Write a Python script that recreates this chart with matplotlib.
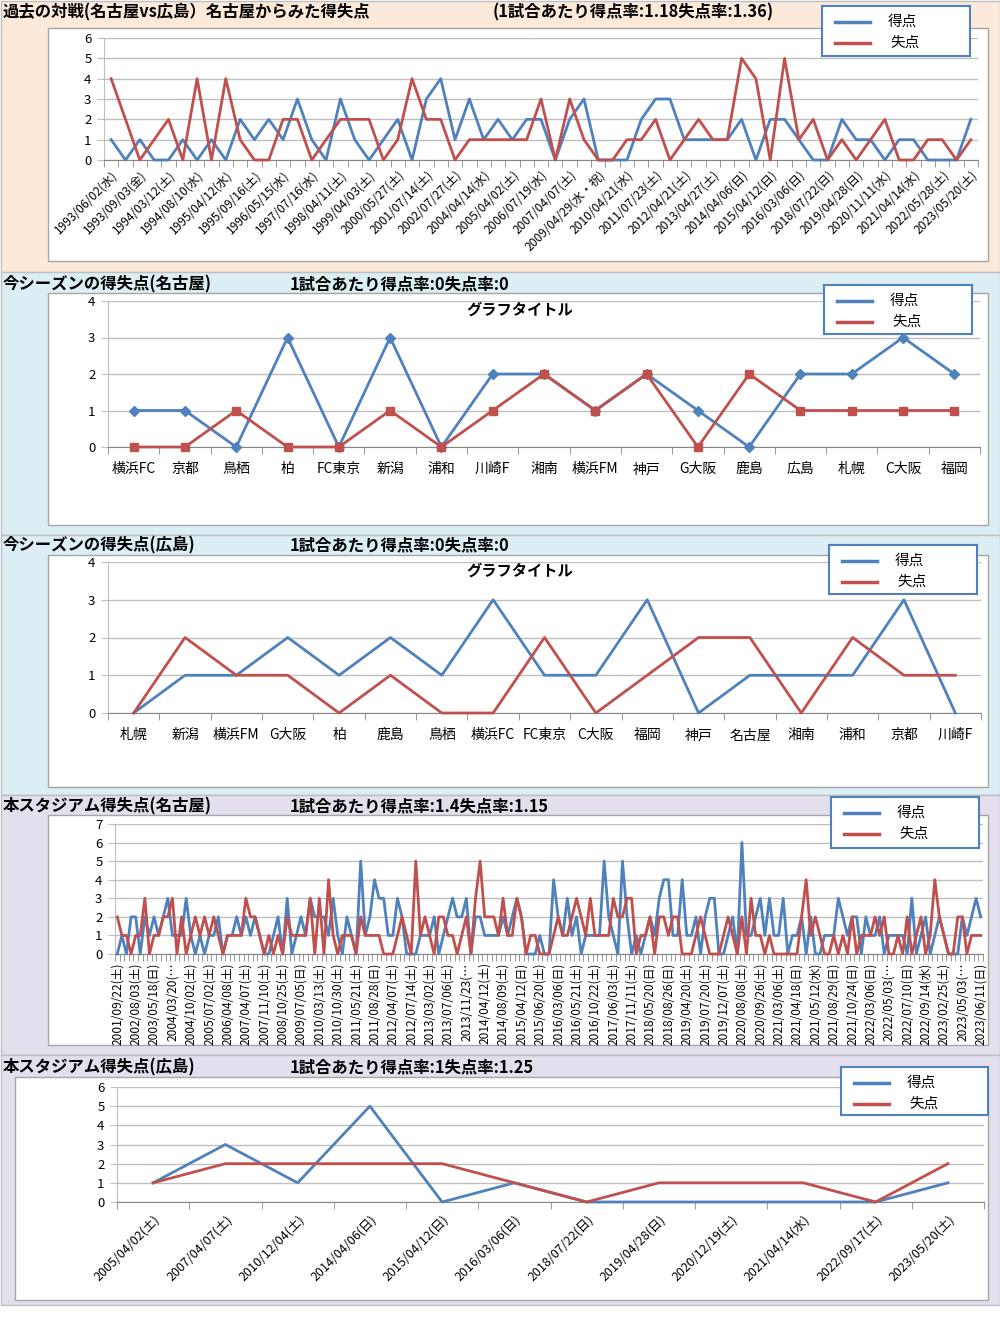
import matplotlib
matplotlib.use('Agg')
import matplotlib.pyplot as plt
from matplotlib.patches import Rectangle
import numpy as np

plt.rcParams['font.family'] = ['Noto Sans CJK JP', 'DejaVu Sans']

W, H = 1000, 1330
BLUE = '#4F81BD'
RED = '#C0504D'
GRID = '#BFBFBF'
AXC = '#868686'

# --- panel 1: past head-to-head (61 matches, every other date labelled)
p1_labels = ['1993/06/02(水)', '1993/09/03(金)', '1994/03/12(土)', '1994/08/10(水)',
             '1995/04/12(水)', '1995/09/16(土)', '1996/05/15(水)', '1997/07/16(水)',
             '1998/04/11(土)', '1999/04/03(土)', '2000/05/27(土)', '2001/07/14(土)',
             '2002/07/27(土)', '2004/04/14(水)', '2005/04/02(土)', '2006/07/19(水)',
             '2007/04/07(土)', '2009/04/29(水・祝)', '2010/04/21(水)', '2011/07/23(土)',
             '2012/04/21(土)', '2013/04/27(土)', '2014/04/06(日)', '2015/04/12(日)',
             '2016/03/06(日)', '2018/07/22(日)', '2019/04/28(日)', '2020/11/11(水)',
             '2021/04/14(水)', '2022/05/28(土)', '2023/05/20(土)']
p1_gf = [1, 0, 1, 0, 0, 1, 0, 1, 0, 2, 1, 2, 1, 3, 1, 0, 3, 1, 0, 1,
         2, 0, 3, 4, 1, 3, 1, 2, 1, 2, 2, 0, 2, 3, 0, 0, 0, 2, 3, 3,
         1, 1, 1, 1, 2, 0, 2, 2, 1, 0, 0, 2, 1, 1, 0, 1, 1, 0, 0, 0, 2]
p1_ga = [4, 2, 0, 1, 2, 0, 4, 0, 4, 1, 0, 0, 2, 2, 0, 1, 2, 2, 2, 0,
         1, 4, 2, 2, 0, 1, 1, 1, 1, 1, 3, 0, 3, 1, 0, 0, 1, 1, 2, 0,
         1, 2, 1, 1, 5, 4, 0, 5, 1, 2, 0, 1, 0, 1, 2, 0, 0, 1, 1, 0, 1]

# --- panel 2: this season, Nagoya
p2_teams = ['横浜FC', '京都', '鳥栖', '柏', 'FC東京', '新潟', '浦和', '川崎F', '湘南',
            '横浜FM', '神戸', 'G大阪', '鹿島', '広島', '札幌', 'C大阪', '福岡']
p2_gf = [1, 1, 0, 3, 0, 3, 0, 2, 2, 1, 2, 1, 0, 2, 2, 3, 2]
p2_ga = [0, 0, 1, 0, 0, 1, 0, 1, 2, 1, 2, 0, 2, 1, 1, 1, 1]

# --- panel 3: this season, Hiroshima
p3_teams = ['札幌', '新潟', '横浜FM', 'G大阪', '柏', '鹿島', '鳥栖', '横浜FC', 'FC東京',
            'C大阪', '福岡', '神戸', '名古屋', '湘南', '浦和', '京都', '川崎F']
p3_gf = [0, 1, 1, 2, 1, 2, 1, 3, 1, 1, 3, 0, 1, 1, 1, 3, 0]
p3_ga = [0, 2, 1, 1, 0, 1, 0, 0, 2, 0, 1, 2, 2, 0, 2, 1, 1]

# --- panel 4: home stadium, Nagoya (189 matches, every 4th labelled)
p4_labels = ['2001/09/22(土)', '2002/08/03(土)', '2003/05/18(日)', '2004/03/20(…',
             '2004/10/02(土)', '2005/07/02(土)', '2006/04/08(土)', '2007/04/07(土)',
             '2007/11/10(土)', '2008/10/25(土)', '2009/07/05(日)', '2010/03/13(土)',
             '2010/10/30(土)', '2011/05/21(土)', '2011/08/28(日)', '2012/04/07(土)',
             '2012/07/14(土)', '2013/03/02(土)', '2013/07/06(土)', '2013/11/23(…',
             '2014/04/12(土)', '2014/08/09(土)', '2015/04/12(日)', '2015/06/20(土)',
             '2016/03/06(日)', '2016/05/21(土)', '2016/10/22(土)', '2017/06/03(土)',
             '2017/11/11(土)', '2018/05/20(日)', '2018/08/26(日)', '2019/04/20(土)',
             '2019/07/20(土)', '2019/12/07(土)', '2020/08/08(土)', '2020/09/26(土)',
             '2021/03/06(土)', '2021/04/18(日)', '2021/05/12(水)', '2021/08/29(日)',
             '2021/10/24(日)', '2022/03/06(日)', '2022/05/03(…', '2022/07/10(日)',
             '2022/09/14(水)', '2023/02/25(土)', '2023/05/03(…', '2023/06/11(日)']
p4_gf = [0, 1, 0, 2, 2, 0, 2, 1, 2, 1, 2, 3, 1, 1, 1, 3, 1, 0, 1, 0,
         1, 1, 2, 0, 1, 1, 2, 1, 2, 1, 2, 1, 0, 0, 1, 2, 0, 3, 0, 1,
         2, 1, 3, 2, 2, 2, 1, 3, 1, 0, 2, 1, 0, 5, 1, 2, 4, 3, 3, 1,
         1, 3, 2,
         0, 0, 0, 1, 1, 1, 2, 0, 1, 2, 3, 2, 2, 3, 0, 2, 2, 1, 1, 1,
         1, 2, 1, 2, 3, 2, 0, 0, 0, 1, 0, 0, 4, 2, 1, 3, 1, 2, 0, 1,
         1, 1, 1, 5, 2, 1, 0, 5, 2, 0, 1, 0, 1, 2, 1, 3, 4, 4, 1, 1,
         4, 1,
         1, 2, 0, 2, 3, 3, 0, 0, 1, 2, 0, 6, 1, 1, 2, 3, 1, 3, 1, 1,
         3, 0, 1, 1, 2, 0, 2, 0, 0, 1, 1, 1, 3, 2, 1, 2, 2, 0, 2, 1,
         1, 2, 0, 1, 1, 1, 1, 0, 3, 0, 1, 2, 0, 1, 2, 1, 0, 0, 0, 2,
         1, 2, 3, 2]
p4_ga = [2, 1, 1, 0, 1, 1, 3, 0, 1, 1, 2, 2, 3, 0, 2, 0, 1, 2, 1, 2,
         1, 2, 1, 0, 1, 1, 1, 1, 3, 2, 2, 1, 0, 1, 0, 1, 0, 2, 1, 1,
         1, 1, 3, 0, 3, 0, 4, 1, 0, 1, 1, 1, 0, 2, 1, 1, 1, 1, 0, 0,
         0, 1, 2,
         1, 0, 5, 1, 2, 1, 0, 2, 2, 1, 1, 0, 1, 2, 0, 3, 5, 2, 2, 2,
         1, 3, 1, 1, 3, 2, 0, 1, 1, 0, 0, 0, 1, 2, 1, 1, 2, 3, 2, 1,
         3, 1, 1, 1, 1, 3, 2, 2, 3, 3, 0, 1, 1, 2, 0, 2, 2, 1, 2, 2,
         0, 0,
         0, 1, 2, 1, 0, 0, 0, 1, 2, 1, 0, 2, 0, 3, 1, 1, 0, 1, 0, 0,
         0, 0, 0, 0, 2, 4, 1, 2, 1, 0, 0, 1, 0, 1, 0, 2, 0, 1, 1, 1,
         2, 1, 2, 0, 0, 1, 0, 2, 0, 1, 2, 0, 1, 4, 2, 1, 0, 0, 2, 2,
         0, 1, 1, 1]

# --- panel 5: home stadium, Hiroshima
p5_labels = ['2005/04/02(土)', '2007/04/07(土)', '2010/12/04(土)', '2014/04/06(日)',
             '2015/04/12(日)', '2016/03/06(日)', '2018/07/22(日)', '2019/04/28(日)',
             '2020/12/19(土)', '2021/04/14(水)', '2022/09/17(土)', '2023/05/20(土)']
p5_gf = [1, 3, 1, 5, 0, 1, 0, 0, 0, 0, 0, 1]
p5_ga = [1, 2, 2, 2, 2, 1, 0, 1, 1, 1, 0, 2]

fig = plt.figure(figsize=(10, 13.3), dpi=100)


def rect(x0, y0, x1, y1):
    return [x0 / W, 1 - y1 / H, (x1 - x0) / W, (y1 - y0) / H]


def patch(x0, y0, x1, y1, fc, ec, z):
    r = rect(x0, y0, x1, y1)
    fig.patches.append(Rectangle((r[0], r[1]), r[2], r[3], transform=fig.transFigure,
                                 facecolor=fc, edgecolor=ec, lw=1.0, zorder=z))


def ftext(x, y, s, **kw):
    fig.text(x / W, 1 - y / H, s, va='center', **kw)


def legend(x0, y0, x1, y1):
    lax = fig.add_axes(rect(x0, y0, x1, y1), zorder=5)
    lax.set_xlim(0, x1 - x0)
    lax.set_ylim(y1 - y0, 0)
    lax.set_xticks([])
    lax.set_yticks([])
    for s in lax.spines.values():
        s.set_color(BLUE)
        s.set_linewidth(1.5)
    lax.plot([13, 48], [16, 16], color=BLUE, lw=2.5)
    lax.plot([13, 48], [37, 37], color=RED, lw=2.5)
    lax.text(66, 16, '得点', va='center', fontsize=10.5)
    lax.text(68, 37, '失点', va='center', fontsize=10.5)


def chart(box, labels, gf, sf, ymax, every=1, rot=0, lfs=9, pad=6, markers=False):
    ax = fig.add_axes(rect(*box), zorder=2)
    n = len(gf)
    x = np.arange(n)
    ax.plot(x, gf, color=BLUE, lw=2, marker='D' if markers else None, ms=5,
            clip_on=False, zorder=3)
    ax.plot(x, sf, color=RED, lw=2, marker='s' if markers else None, ms=6,
            clip_on=False, zorder=4)
    ax.set_xlim(-0.5, n - 0.5)
    ax.set_ylim(0, ymax)
    ax.set_yticks(range(ymax + 1))
    ax.yaxis.grid(True, color=GRID, lw=1)
    ax.set_axisbelow(True)
    ax.set_facecolor('none')
    for s in ['top', 'right']:
        ax.spines[s].set_visible(False)
    ax.spines['left'].set_color(GRID)
    ax.spines['bottom'].set_color(AXC)
    ax.set_xticks(x[::every])
    if rot == 0:
        ax.set_xticklabels(labels, fontsize=lfs)
    elif rot == 90:
        ax.set_xticklabels(labels, fontsize=lfs, rotation=90, ha='center', va='top')
    else:
        ax.set_xticklabels(labels, fontsize=lfs, rotation=rot, ha='right', va='top',
                           rotation_mode='anchor')
    ax.set_xticks(np.arange(n + 1) - 0.5, minor=True)
    ax.tick_params(axis='x', which='major', length=0, pad=pad)
    ax.tick_params(axis='x', which='minor', length=5, color=AXC)
    ax.tick_params(axis='y', length=5, color=GRID, labelsize=9.5, pad=4)
    return ax


# backgrounds
patch(0.5, 0.5, 999.5, 272, '#FDE9D9', GRID, -10)
patch(0.5, 272, 999.5, 535, '#DAEEF3', GRID, -10)
patch(0.5, 535, 999.5, 795, '#DAEEF3', GRID, -10)
patch(0.5, 795, 999.5, 1055, '#E4DFEC', GRID, -10)
patch(0.5, 1055, 999.5, 1305, '#E4DFEC', GRID, -10)

# chart boxes
for bx in [(48, 28, 988, 261), (48, 293, 988, 525), (48, 555, 988, 787),
           (48, 815, 988, 1045), (15, 1077, 988, 1300)]:
    patch(*bx, 'white', '#A6A6A6', -5)

# headings
tk = dict(fontsize=11.8, fontweight='bold')
ftext(3, 12, '過去の対戦(名古屋vs広島）名古屋からみた得失点', **tk)
ftext(493, 12, '(1試合あたり得点率:1.18失点率:1.36)', **tk)
ftext(3, 284, '今シーズンの得失点(名古屋)', **tk)
ftext(290, 284, '1試合あたり得点率:0失点率:0', **tk)
ftext(3, 545, '今シーズンの得失点(広島)', **tk)
ftext(290, 545, '1試合あたり得点率:0失点率:0', **tk)
ftext(3, 806, '本スタジアム得失点(名古屋)', **tk)
ftext(290, 806, '1試合あたり得点率:1.4失点率:1.15', **tk)
ftext(3, 1067, '本スタジアム得失点(広島)', **tk)
ftext(290, 1067, '1試合あたり得点率:1失点率:1.25', **tk)
ftext(520, 310, 'グラフタイトル', ha='center', fontsize=11, fontweight='bold', zorder=6)
ftext(520, 571, 'グラフタイトル', ha='center', fontsize=11, fontweight='bold', zorder=6)

chart((104, 38, 978, 160), p1_labels, p1_gf, p1_ga, 6, every=2, rot=45, lfs=8.7)
chart((108, 301, 980, 447), p2_teams, p2_gf, p2_ga, 4, lfs=10, pad=11, markers=True)
chart((108, 562, 981, 713), p3_teams, p3_gf, p3_ga, 4, lfs=10, pad=11)
chart((115, 824, 983, 954), p4_labels, p4_gf, p4_ga, 7, every=4, rot=90, lfs=8.6)
chart((117, 1087, 984, 1202), p5_labels, p5_gf, p5_ga, 6, rot=45, lfs=9, pad=8)

legend(822, 6, 970, 56)
legend(824, 285, 972, 334)
legend(829, 545, 977, 594)
legend(831, 797, 979, 848)
legend(841, 1067, 988, 1115)

fig.savefig('out.png', dpi=100)
